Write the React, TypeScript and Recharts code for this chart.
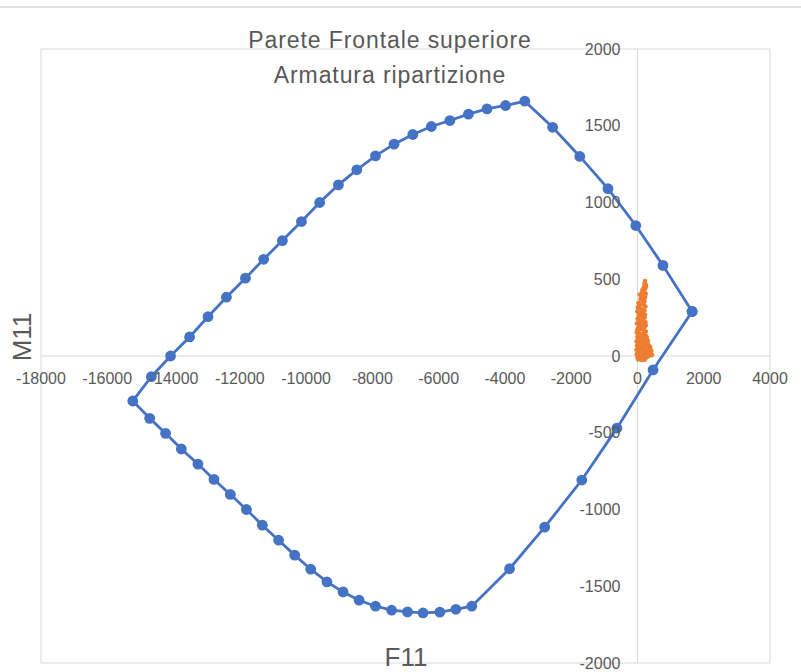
import React from 'react';
import { ScatterChart, Scatter, XAxis, YAxis, CartesianGrid, ReferenceLine, ReferenceDot } from 'recharts';

// dominio resistente (F11, M11)
const dominioF = [1650, 770, -50, -890, -1740, -2560, -3400, -3980, -4540, -5100, -5660, -6220, -6780, -7345, -7905, -8470, -9025, -9590, -10140, -10715, -11280, -11830, -12405, -12960, -13515, -14090, -14670, -15230, -14720, -14240, -13765, -13265, -12780, -12285, -11800, -11320, -10830, -10345, -9860, -9370, -8885, -8400, -7905, -7420, -6940, -6470, -5965, -5480, -5000, -3860, -2800, -1680, -620, 470, 1650];
const dominioM = [290, 590, 850, 1090, 1300, 1490, 1660, 1632, 1610, 1576, 1534, 1495, 1443, 1380, 1304, 1213, 1115, 1000, 876, 752, 630, 507, 383, 256, 124, 0, -135, -293, -406, -504, -606, -704, -804, -902, -1000, -1102, -1200, -1297, -1389, -1472, -1537, -1591, -1630, -1656, -1667, -1674, -1669, -1650, -1630, -1386, -1115, -808, -470, -91, 290];

// sollecitazioni di calcolo
const sollF = [230, 210, 245, 190, 235, 150, 205, 250, 120, 175, 230, 95, 160, 215, 30, 110, 190, 240, 10, 70, 150, 210, -5, 90, 180, 40, 130, 215, 5, 85, 170, 240, -15, 60, 140, 220, 20, 100, 185, 250, -20, 55, 135, 210, 0, 90, 170, 260, 320, -25, 40, 120, 200, 290, -10, 75, 160, 240, 360, -30, 30, 110, 190, 280, 410, -20, 60, 140, 230, 330, 440, 0, 90, 180, 270, 20, 120, 220, 350, 380, 50, 130, 200, 160, 100, 60, 300, 260, 30, 180, 120, 70,
  260, 140, 200, 60, 180, 230, 110, 50, 150, 250, 90, 200, -10, 140, 280, 60, 200, 330, 10, 100, 250, 390, 160, 300, 70, 210, 40, 350, 130, 260, 420, 190];
const sollM = [488, 472, 465, 448, 440, 430, 418, 405, 398, 392, 385, 372, 365, 358, 345, 340, 335, 322, 315, 310, 305, 296, 290, 282, 275, 266, 258, 250, 242, 236, 228, 220, 212, 206, 198, 190, 182, 176, 168, 160, 152, 146, 140, 132, 124, 118, 112, 106, 98, 96, 90, 84, 78, 72, 66, 60, 55, 50, 46, 40, 36, 30, 26, 22, 18, 12, 8, 4, 0, -2, 6, -8, -12, -16, -10, -22, -26, -24, 30, 60, 270, 190, 150, 92, 48, 20, 80, 130, 170, 350, 230, 400,
  455, 412, 378, 328, 300, 268, 262, 225, 214, 200, 188, 150, 168, 104, 120, 110, 62, 70, 82, 44, 38, 45, 14, 12, 24, -4, 2, 10, -14, -6, 32, -18];

const xTicks = [-18000, -16000, -14000, -12000, -10000, -8000, -6000, -4000, -2000, 0, 2000, 4000];
const yTicks = [-2000, -1500, -1000, -500, 0, 500, 1000, 1500, 2000];

const dominio = dominioF.map((f, i) => ({ x: f, y: dominioM[i] }));
const sollecitazioni = sollF.map((f, i) => ({ x: f, y: sollM[i] }));

const GREY = '#595959';
const FONT = '"Liberation Sans", Arial, sans-serif';

const BlueDot = (props: any) => <circle cx={props.cx} cy={props.cy} r={5.4} fill="#4472C4" />;
const OrangeDot = (props: any) => <circle cx={props.cx} cy={props.cy} r={2.3} fill="#ED7D31" />;

export default function App() {
  return (
    <div style={{ position: 'absolute', left: 0, top: 0, width: 801, height: 672, background: '#fff', fontFamily: FONT, overflow: 'hidden' }}>
      <div style={{ position: 'absolute', left: 0, top: 6, width: 801, height: 2, background: '#e3e3e3' }} />
      <ScatterChart width={801} height={672} margin={{ top: 49, right: 31, bottom: 9, left: 41 }}>
        <CartesianGrid stroke="#d9d9d9" strokeWidth={1} />
        <XAxis type="number" dataKey="x" domain={[-18000, 4000]} ticks={xTicks} tick={false} tickLine={false} axisLine={false} height={0} />
        <YAxis type="number" dataKey="y" domain={[-2000, 2000]} ticks={yTicks} tick={false} tickLine={false} axisLine={false} width={0} />
        <ReferenceLine x={0} stroke="#d9d9d9" />
        <ReferenceLine y={0} stroke="#d9d9d9" />
        {xTicks.map((t) => (
          <ReferenceDot key={'x' + t} x={t} y={0} r={0} stroke="none" fill="none"
            label={{ value: String(t), position: 'bottom', offset: 17, fill: GREY, fontSize: 16 }} />
        ))}
        {yTicks.map((t) => (
          <ReferenceDot key={'y' + t} x={0} y={t} r={0} stroke="none" fill="none"
            label={{ value: String(t), position: 'left', offset: 17, fill: GREY, fontSize: 16 }} />
        ))}
        <Scatter data={dominio} line={{ stroke: '#4472C4', strokeWidth: 2.8 }} shape={BlueDot} isAnimationActive={false} />
        <Scatter data={sollecitazioni} shape={OrangeDot} isAnimationActive={false} />
      </ScatterChart>
      <div style={{ position: 'absolute', left: 0, width: 780, top: 23, textAlign: 'center', color: GREY, fontSize: 23, lineHeight: '35px', letterSpacing: 0.9 }}>
        <div>Parete Frontale superiore</div>
        <div>Armatura ripartizione</div>
      </div>
      <div style={{ position: 'absolute', left: 22, top: 337, transform: 'translate(-50%, -50%) rotate(-90deg)', color: GREY, fontSize: 26, whiteSpace: 'nowrap' }}>M11</div>
      <div style={{ position: 'absolute', left: 406, top: 642, transform: 'translateX(-50%)', color: GREY, fontSize: 26, whiteSpace: 'nowrap' }}>F11</div>
    </div>
  );
}
